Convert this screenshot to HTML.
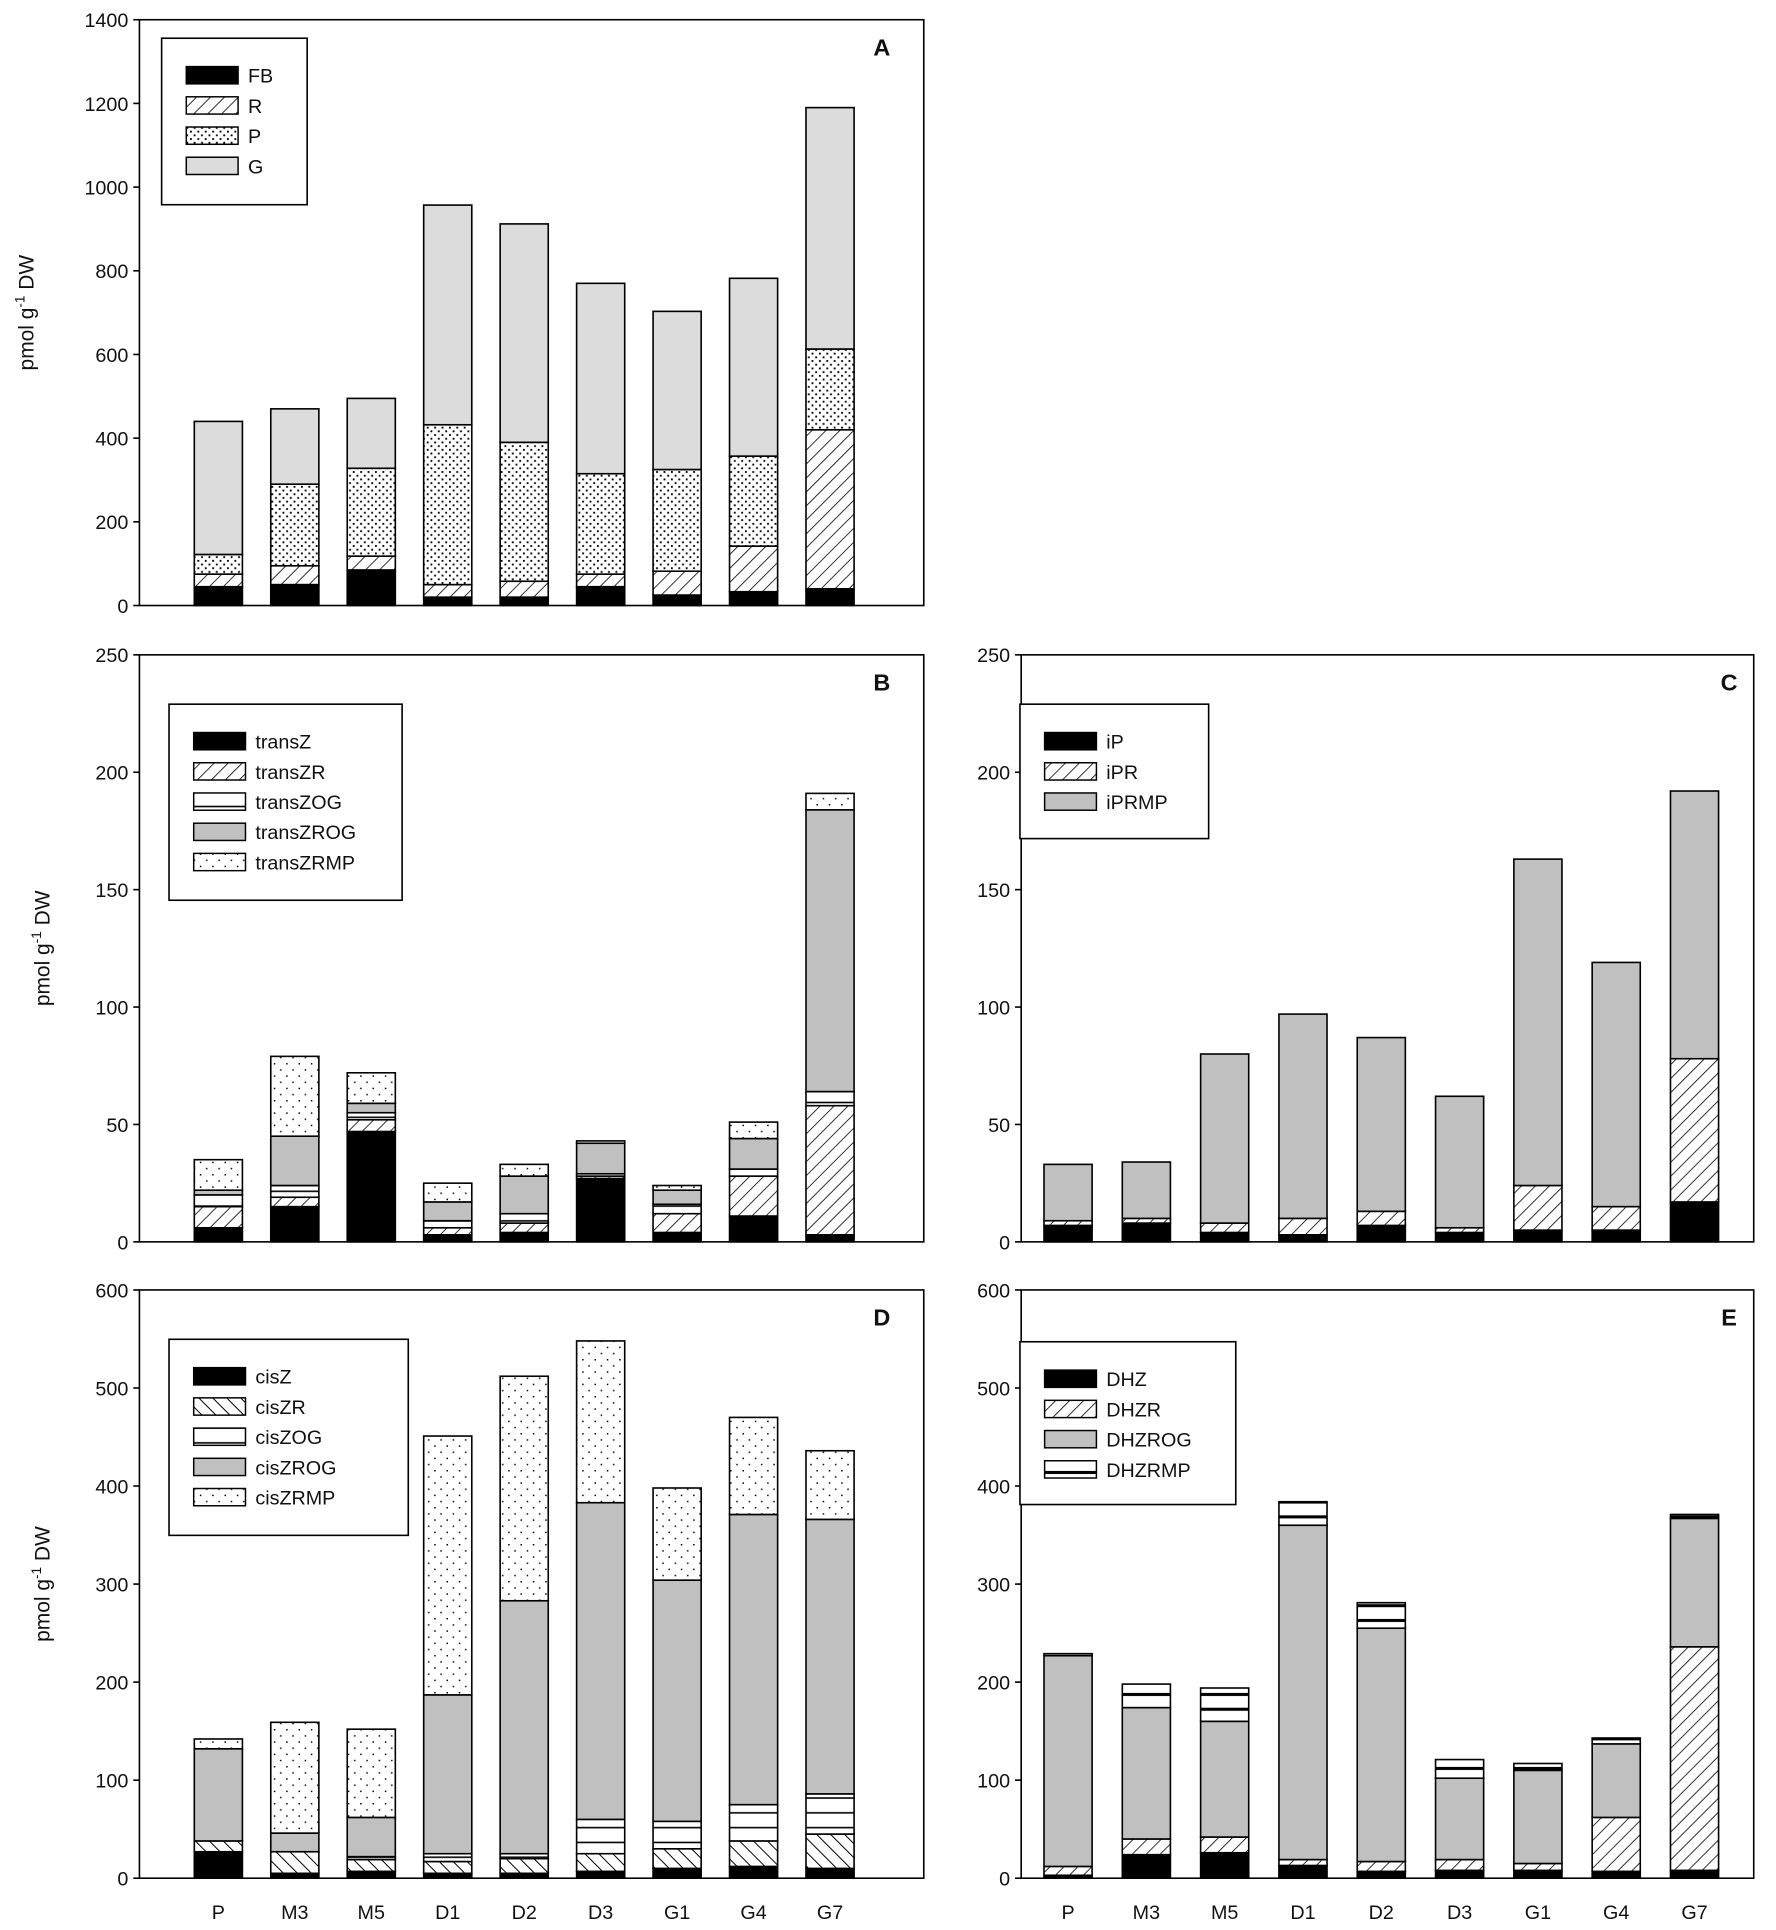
<!DOCTYPE html>
<html><head><meta charset="utf-8"><style>
html,body{margin:0;padding:0;background:#fff}
svg{display:block}
text{font-family:"Liberation Sans",Arial,sans-serif;fill:#111}
</style></head><body>
<svg id="fig" width="1776" height="1930" viewBox="0 0 1440 1565" xmlns="http://www.w3.org/2000/svg">
<defs>
<pattern id="hatch" patternUnits="userSpaceOnUse" width="8" height="8" patternTransform="rotate(45)"><rect width="8" height="8" fill="#fff"/><line x1="0" y1="0" x2="0" y2="8" stroke="#000" stroke-width="1.3"/></pattern>
<pattern id="bhatch" patternUnits="userSpaceOnUse" width="8" height="8" patternTransform="rotate(-45)"><rect width="8" height="8" fill="#fff"/><line x1="0" y1="0" x2="0" y2="8" stroke="#000" stroke-width="1.6"/></pattern>
<pattern id="dense" patternUnits="userSpaceOnUse" width="6" height="6"><rect width="6" height="6" fill="#fff"/><rect x="1" y="1" width="1.5" height="1.5" fill="#000"/><rect x="4" y="4" width="1.5" height="1.5" fill="#000"/></pattern>
<pattern id="sparse" patternUnits="userSpaceOnUse" width="10" height="10"><rect width="10" height="10" fill="#fff"/><rect x="2" y="2" width="1.2" height="1.2" fill="#000"/><rect x="7" y="7" width="1.2" height="1.2" fill="#000"/></pattern>
<pattern id="hlines" patternUnits="userSpaceOnUse" width="10" height="12"><rect width="10" height="12" fill="#fff"/><line x1="0" y1="6" x2="10" y2="6" stroke="#000" stroke-width="1.3"/></pattern>
<pattern id="thick" patternUnits="userSpaceOnUse" width="10" height="12"><rect width="10" height="12" fill="#fff"/><line x1="0" y1="6" x2="10" y2="6" stroke="#000" stroke-width="2.5"/></pattern>
</defs>
</svg>
<script>
const categories = ["P","M3","M5","D1","D2","D3","G1","G4","G7"];
// Panel A
const aNames = ["FB","R","P","G"];
const aFB = [45,50,85,20,20,45,25,33,40];
const aR  = [30,45,33,30,38,30,57,109,380];
const aP  = [47,195,210,382,332,240,243,215,193];
const aG  = [318,180,167,525,522,455,378,425,577];
const aTicks = [0,200,400,600,800,1000,1200,1400];
// Panel B
const bNames = ["transZ","transZR","transZOG","transZROG","transZRMP"];
const bZ    = [6,15,47,3,4,27,4,11,3];
const bZR   = [9,4,5,3,4,1,8,17,55];
const bZOG  = [5,5,3,3,4,1,4,3,6];
const bZROG = [2,21,4,8,16,13,6,13,120];
const bRMP  = [13,34,13,8,5,1,2,7,7];
const bTicks = [0,50,100,150,200,250];
// Panel C
const cNames = ["iP","iPR","iPRMP"];
const cIP   = [7,8,4,3,7,4,5,5,17];
const cIPR  = [2,2,4,7,6,2,19,10,61];
const cRMP  = [24,24,72,87,74,56,139,104,114];
const cTicks = [0,50,100,150,200,250];
// Panel D
const dNames = ["cisZ","cisZR","cisZOG","cisZROG","cisZRMP"];
const dZ    = [27,5,7,5,5,7,10,12,10];
const dZR   = [11,22,12,12,15,18,20,26,35];
const dZOG  = [0,0,3,8,5,35,28,37,41];
const dZROG = [94,19,40,162,258,323,246,296,280];
const dRMP  = [10,113,90,264,229,165,94,99,70];
const dTicks = [0,100,200,300,400,500,600];
// Panel E
const eNames = ["DHZ","DHZR","DHZROG","DHZRMP"];
const eZ    = [3,24,26,13,7,8,8,7,8];
const eZR   = [9,16,16,6,10,11,7,55,228];
const eZROG = [215,134,118,341,238,83,95,75,131];
const eRMP  = [2,24,34,24,26,19,7,6,4];
const eTicks = [0,100,200,300,400,500,600];

const NS="http://www.w3.org/2000/svg";
const svg=document.getElementById('fig');
function mk(tag,attrs,parent){const e=document.createElementNS(NS,tag);for(const k in attrs)e.setAttribute(k,attrs[k]);(parent||svg).appendChild(e);return e;}

function panel(p){
  const g=mk('g',{});
  
  
  const yMax=p.ticks[p.ticks.length-1];
  const yS=v=>p.bottom-(v/yMax)*(p.bottom-p.top);
  const xS=i=>p.x0+i*p.step;
  categories.forEach((c,i)=>{
    let acc=0;
    p.series.forEach((s,k)=>{
      const v=s[i]; if(v<=0){return;}
      const y1=yS(acc+v), y0=yS(acc);
      const r=mk('rect',{x:xS(i)-p.bw/2,y:y1,width:p.bw,height:y0-y1,fill:p.fills[k],stroke:'#000','stroke-width':1.3},g);
      
      
      acc+=v;
    });
  });
  const f=mk('rect',{x:p.left,y:p.top,width:p.right-p.left,height:p.bottom-p.top,fill:'none',stroke:'#000','stroke-width':1.3},g);
  
  
  p.ticks.forEach(t=>{
    const y=yS(t);
    mk('line',{x1:p.left-5,y1:y,x2:p.left,y2:y,stroke:'#000','stroke-width':1.3},g);
    const tx=mk('text',{x:p.left-9,y:y+6,'text-anchor':'end','font-size':16},g);
    tx.textContent=t;
    
    
  });
  if(p.xlabels){categories.forEach((c,i)=>{
    const tx=mk('text',{x:xS(i),y:p.bottom+33,'text-anchor':'middle','font-size':16},g);
    tx.textContent=c;
    
    
  });}
  if(p.ytitle){
    const tx=mk('text',{transform:`translate(${p.ytx},${(p.top+p.bottom)/2}) rotate(-90)`,'text-anchor':'middle','font-size':17},g);
    
    
    tx.innerHTML='pmol g<tspan dy="-7" font-size="11">-1</tspan><tspan dy="7"> DW</tspan>';
  }
  const L=mk('text',{x:p.right-p.lblOff,y:p.top+29,'text-anchor':'middle','font-size':19,'font-weight':'bold'},g);
  L.textContent=p.id;
  
  
  const lg=mk('g',{},g);
  
  
  mk('rect',{x:p.lg[0],y:p.lg[1],width:p.lg[2],height:p.lg[3],fill:'#fff',stroke:'#000','stroke-width':1.3},lg);
  p.names.forEach((n,k)=>{
    const e=mk('g',{},lg);
    
    
    const y=p.lg[1]+p.lgOff+k*p.lgGap;
    mk('rect',{x:p.lg[0]+20,y:y-7,width:42,height:14,fill:p.fills[k],stroke:'#000','stroke-width':1.2},e);
    const tx=mk('text',{x:p.lg[0]+70,y:y+6,'font-size':16},e);
    tx.textContent=n;
  });
}
const BLACK='#000', HATCH='url(#hatch)', DENSE='url(#dense)', SPARSE='url(#sparse)', HL='url(#hlines)', GRAY='#c0c0c0';
panel({id:'A',left:113,right:749,top:16,bottom:491,x0:177,step:62,bw:39,ticks:aTicks,names:aNames,lblOff:34,
  series:[aFB,aR,aP,aG],fills:[BLACK,HATCH,DENSE,'#dcdcdc'],ytitle:true,ytx:27,lg:[131,31,118,135],lgOff:30,lgGap:24.5});
panel({id:'B',left:113,right:749,top:531,bottom:1007,x0:177,step:62,bw:39,ticks:bTicks,names:bNames,lblOff:34,
  series:[bZ,bZR,bZOG,bZROG,bRMP],fills:[BLACK,HATCH,HL,GRAY,SPARSE],ytitle:true,ytx:40,lg:[137,571,189,159],lgOff:30,lgGap:24.5});
panel({id:'C',left:828,right:1422,top:531,bottom:1007,x0:866,step:63.5,bw:39,ticks:cTicks,names:cNames,lblOff:20,
  series:[cIP,cIPR,cRMP],fills:[BLACK,HATCH,GRAY],ytitle:false,lg:[827,571,153,109],lgOff:30,lgGap:24.5});
panel({id:'D',left:113,right:749,top:1046,bottom:1523,x0:177,step:62,bw:39,ticks:dTicks,names:dNames,lblOff:34,
  series:[dZ,dZR,dZOG,dZROG,dRMP],fills:[BLACK,'url(#bhatch)',HL,GRAY,SPARSE],ytitle:true,ytx:40,lg:[137,1086,194,159],lgOff:30,lgGap:24.5,xlabels:true});
panel({id:'E',left:828,right:1422,top:1046,bottom:1523,x0:866,step:63.5,bw:39,ticks:eTicks,names:eNames,lblOff:20,
  series:[eZ,eZR,eZROG,eRMP],fills:[BLACK,HATCH,GRAY,'url(#thick)'],ytitle:false,lg:[827,1088,175,132],lgOff:30,lgGap:24.5,xlabels:true});
</script>
</body></html>
